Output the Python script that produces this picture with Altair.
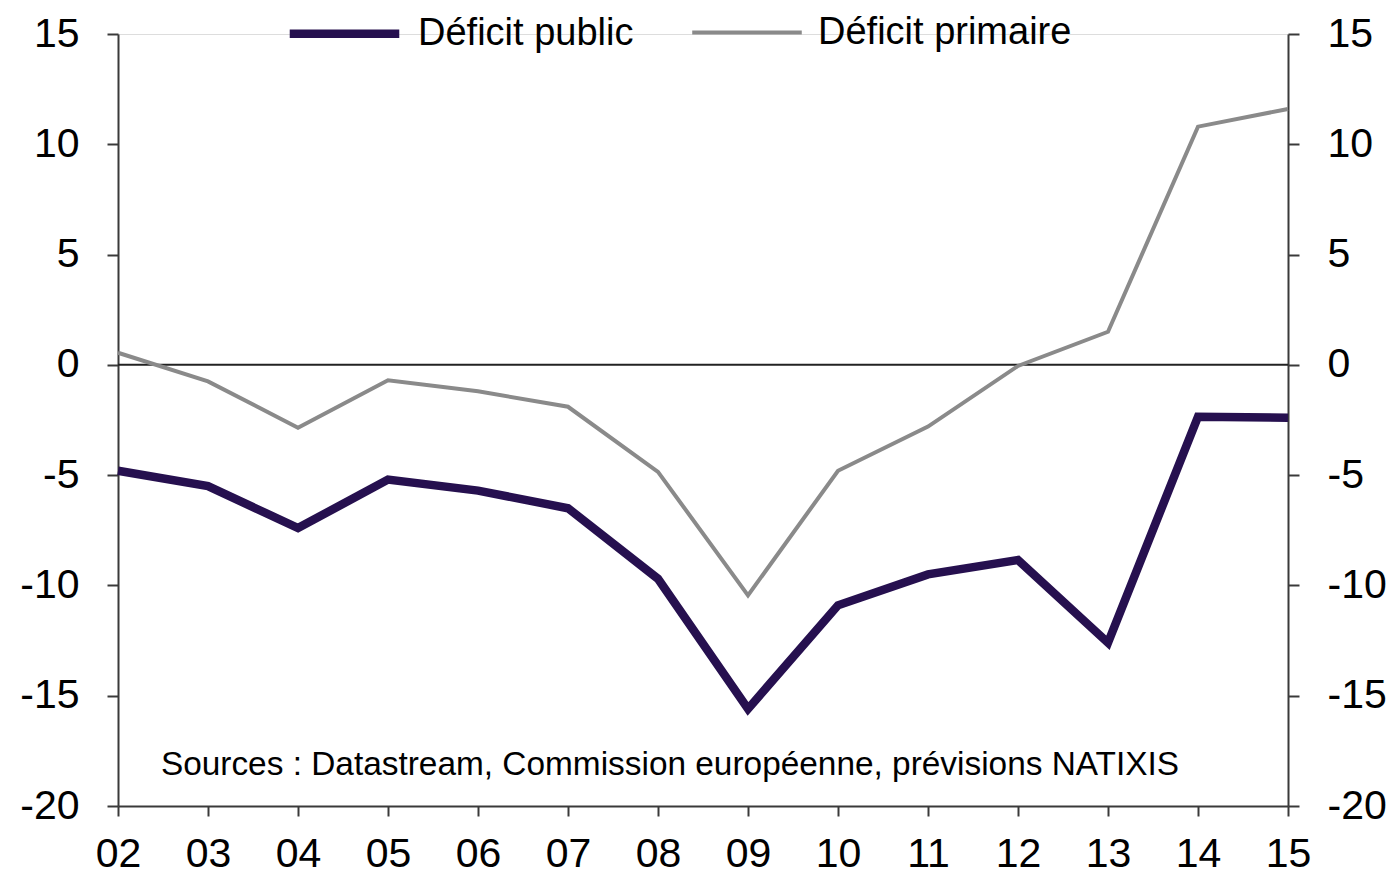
import altair as alt
import pandas as pd

years = ["02", "03", "04", "05", "06", "07", "08", "09", "10", "11", "12", "13", "14", "15"]
deficit_public = [-4.8, -5.5, -7.4, -5.2, -5.7, -6.5, -9.7, -15.6, -10.9, -9.5, -8.85, -12.6, -2.35, -2.4]
deficit_primaire = [0.55, -0.75, -2.85, -0.7, -1.2, -1.9, -4.85, -10.45, -4.8, -2.8, -0.05, 1.5, 10.8, 11.6]
series_names = ["Déficit public", "Déficit primaire"]
series_colors = ["#26104f", "#8a8a8a"]
series_widths = [8.5, 4]
y_ticks = [-20, -15, -10, -5, 0, 5, 10, 15]
source_text = "Sources : Datastream, Commission européenne, prévisions NATIXIS"

rows = []
for i, yr in enumerate(years):
    rows.append({"year": yr, "series": series_names[0], "value": deficit_public[i]})
    rows.append({"year": yr, "series": series_names[1], "value": deficit_primaire[i]})
df = pd.DataFrame(rows)

FONT = "Liberation Sans"
AX = "#3a3a3a"
ydom = [-20, 15]
yscale = alt.Scale(domain=ydom, nice=False, zero=False)


def y_axis(orient):
    return alt.Axis(title=None, orient=orient, values=y_ticks, labelFontSize=41, labelFont=FONT,
                    labelColor="black", tickSize=11, tickWidth=2, tickColor=AX,
                    domainColor=AX, domainWidth=2, labelPadding=28, grid=False,
                    labelExpr="toString(datum.value)")


x_enc = alt.X("year:O", scale=alt.Scale(type="point", padding=0),
              axis=alt.Axis(title=None, labelAngle=0, labelFontSize=41, labelFont=FONT,
                            labelColor="black", tickSize=10, tickWidth=2, tickColor=AX,
                            domainColor=AX, domainWidth=2, labelPadding=18))

legend = alt.Legend(title=None, orient="none", legendX=167, legendY=-60,
                    direction="horizontal", symbolType="stroke", symbolSize=12000,
                    labelFontSize=38, labelFont=FONT, labelColor="black", labelOffset=14,
                    labelBaseline="middle", columnPadding=50, labelLimit=500)

zero_df = pd.DataFrame({"v": [0]})
zero_rule = alt.Chart(zero_df).mark_rule(color="#222222", strokeWidth=2).encode(
    y=alt.Y("v:Q", scale=yscale, axis=y_axis("left"))
)

lines = alt.Chart(df).mark_line(strokeCap="butt", strokeJoin="miter").encode(
    x=x_enc,
    y=alt.Y("value:Q", scale=yscale, axis=y_axis("left")),
    color=alt.Color("series:N", sort=series_names,
                    scale=alt.Scale(domain=series_names, range=series_colors),
                    legend=legend),
    strokeWidth=alt.StrokeWidth("series:N", sort=series_names,
                                scale=alt.Scale(domain=series_names, range=series_widths),
                                legend=legend),
    order=alt.Order("year:O"),
)

right_axis = alt.Chart(zero_df).mark_rule(opacity=0).encode(
    y=alt.Y("v:Q", scale=yscale, axis=y_axis("right"))
)

src_df = pd.DataFrame({"t": [source_text]})
src = alt.Chart(src_df).mark_text(align="center", baseline="middle", fontSize=33.4,
                                  font=FONT, color="black").encode(
    text="t:N", x=alt.value(552), y=alt.value(731)
)

left = alt.layer(zero_rule, lines, src)
chart = alt.layer(left, right_axis).resolve_scale(y="independent").properties(
    width=1170, height=772,
    autosize=alt.AutoSizeParams(type="none"),
    padding={"left": 110, "top": 26, "right": 100, "bottom": 73},
).configure_view(strokeWidth=0).configure(background="white")

chart.save("out.html", embed_options={"renderer": "svg", "actions": False})
